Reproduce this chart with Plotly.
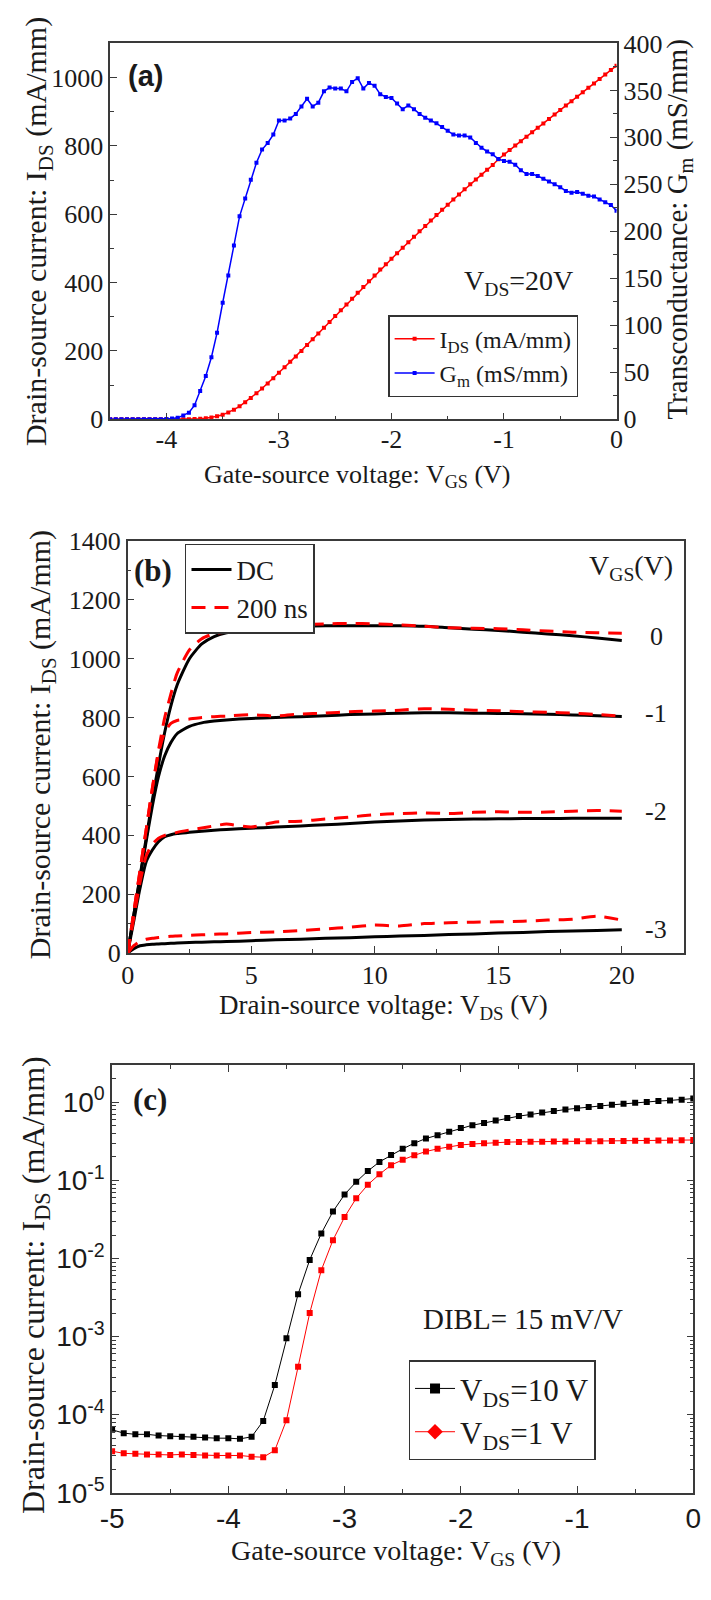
import plotly.graph_objects as go

W, H = 711, 1600

# ---------------- Panel (a): transfer curve at VDS = 20 V ----------------
vgs_a = [-4.5, -4.45, -4.4, -4.35, -4.3, -4.25, -4.2, -4.15, -4.1, -4.05,
         -4.0, -3.95, -3.9, -3.85, -3.8, -3.75, -3.7, -3.65, -3.6, -3.55,
         -3.5, -3.45, -3.4, -3.35, -3.3, -3.25, -3.2, -3.15, -3.1, -3.05,
         -3.0, -2.95, -2.9, -2.85, -2.8, -2.75, -2.7, -2.65, -2.6, -2.55,
         -2.5, -2.45, -2.4, -2.35, -2.3, -2.25, -2.2, -2.15, -2.1, -2.05,
         -2.0, -1.95, -1.9, -1.85, -1.8, -1.75, -1.7, -1.65, -1.6, -1.55,
         -1.5, -1.45, -1.4, -1.35, -1.3, -1.25, -1.2, -1.15, -1.1, -1.05,
         -1.0, -0.95, -0.9, -0.85, -0.8, -0.75, -0.7, -0.65, -0.6, -0.55,
         -0.5, -0.45, -0.4, -0.35, -0.3, -0.25, -0.2, -0.15, -0.1, -0.05, 0.0]

ids_a = [0, 0, 0, 0, 0, 0, 0, 0, 0, 0, 0, 0, 0, 0,
         0.3, 0.7, 1.5, 3, 5, 8.5, 13, 20, 28, 38, 50, 62, 76, 90, 105, 120, 136,
         152, 168, 184, 200, 217, 234, 251, 268, 285, 302,
         319, 336, 353, 370, 387, 404, 421, 438, 454, 470,
         486, 502, 518, 534, 550, 566, 582, 598, 613, 628,
         643, 658, 673, 688, 702, 716, 730, 744, 761, 775,
         788, 801, 814, 827, 840, 853, 866, 879, 892, 905,
         918, 931, 944, 957, 970, 983, 996, 1009, 1022, 1035]

gm_a = [0, 0, 0, 0, 0, 0, 0, 0, 0, 0, 0.3,
        0.8, 1.5, 4, 7, 15, 30, 46, 66, 92, 124,
        153, 185, 216, 235, 255, 273, 287, 294, 303, 318,
        318, 320, 325, 333, 341, 333, 337, 349, 353, 352,
        352, 349, 359, 363, 352, 358, 355, 346, 343, 342,
        336, 330, 334, 330, 325, 321, 318, 315, 311, 307,
        303, 302, 302, 300, 294, 289, 285, 282, 277, 275,
        274, 271, 265, 261, 261, 259, 256, 253, 250, 247,
        243, 241, 242, 240, 238, 237, 234, 231, 228, 222]

xticks_a = [-4, -3, -2, -1, 0]
xticklabels_a = ["-4", "-3", "-2", "-1", "0"]

# ---------------- Panel (b): output curves ----------------
vds_b = [0, 0.25, 0.5, 0.75, 1, 1.25, 1.5, 1.75, 2, 2.5, 3, 3.5, 4, 5, 6, 7,
         8, 9, 10, 11, 12, 13, 14, 15, 16, 17, 18, 19, 20]
dc_0 = [0, 130, 260, 390, 520, 640, 750, 840, 910, 1000, 1050, 1075, 1088, 1100,
        1106, 1110, 1112, 1112, 1112, 1112, 1110, 1105, 1100, 1096, 1090, 1084,
        1078, 1070, 1062]
pl_0 = [0, 140, 280, 420, 560, 690, 800, 880, 950, 1030, 1068, 1085, 1090, 1100,
        1110, 1115, 1118, 1120, 1118, 1115, 1110, 1105, 1103, 1102, 1098, 1094,
        1090, 1088, 1086]
dc_1 = [0, 130, 255, 380, 500, 600, 670, 715, 745, 770, 782, 788, 792, 797, 800,
        803, 806, 810, 812, 815, 816, 816, 815, 814, 813, 811, 809, 806, 804]
pl_1 = [0, 140, 280, 420, 560, 680, 750, 780, 790, 795, 800, 803, 805, 810, 805,
        812, 815, 820, 822, 825, 830, 828, 825, 823, 820, 818, 815, 810, 805]
dc_2 = [0, 110, 220, 310, 350, 378, 395, 402, 406, 410, 414, 417, 420, 424, 428,
        432, 436, 440, 445, 449, 452, 454, 455, 456, 457, 457, 458, 458, 458]
pl_2 = [0, 120, 240, 330, 370, 390, 400, 405, 410, 418, 425, 432, 438, 428, 445,
        448, 455, 462, 470, 474, 476, 474, 478, 480, 478, 479, 482, 484, 482]
dc_3 = [0, 15, 25, 28, 30, 31, 32, 33, 34, 36, 37, 38, 39, 42, 45, 47, 50, 52,
        55, 58, 60, 63, 65, 68, 70, 73, 75, 77, 79]
pl_3 = [0, 25, 40, 47, 50, 53, 55, 57, 58, 60, 62, 64, 65, 70, 72, 76, 82, 88,
        95, 92, 100, 103, 105, 106, 108, 112, 115, 125, 112]
vgs_labels_b = ["0", "-1", "-2", "-3"]
vgs_label_pos_b = [1077, 813, 480, 80]

# ---------------- Panel (c): subthreshold (log) ----------------
vgs_c = [-5.0, -4.9, -4.8, -4.7, -4.6, -4.5, -4.4, -4.3, -4.2, -4.1,
         -4.0, -3.9, -3.8, -3.7, -3.6, -3.5, -3.4, -3.3, -3.2, -3.1,
         -3.0, -2.9, -2.8, -2.7, -2.6, -2.5, -2.4, -2.3, -2.2, -2.1,
         -2.0, -1.9, -1.8, -1.7, -1.6, -1.5, -1.4, -1.3, -1.2, -1.1,
         -1.0, -0.9, -0.8, -0.7, -0.6, -0.5, -0.4, -0.3, -0.2, -0.1, 0.0]
ids_10v = [6.4e-5, 5.8e-5, 5.6e-5, 5.6e-5, 5.4e-5, 5.3e-5, 5.2e-5, 5.2e-5, 5.1e-5, 5.0e-5,
           5.0e-5, 4.9e-5, 5.2e-5, 8.3e-5, 2.4e-4, 9.5e-4, 3.5e-3, 9.6e-3, 2.1e-2, 4.0e-2,
           0.066, 0.096, 0.132, 0.173, 0.212, 0.254, 0.30, 0.345, 0.38, 0.42,
           0.47, 0.51, 0.545, 0.585, 0.63, 0.667, 0.70, 0.74, 0.776, 0.81,
           0.84, 0.876, 0.90, 0.93, 0.96, 0.99, 1.01, 1.04, 1.06, 1.08, 1.12]
ids_1v = [3.4e-5, 3.2e-5, 3.15e-5, 3.1e-5, 3.1e-5, 3.05e-5, 3.1e-5, 3.05e-5, 3.0e-5, 3.0e-5,
          3.0e-5, 3.0e-5, 2.9e-5, 2.85e-5, 3.5e-5, 8.5e-5, 4.1e-4, 2.0e-3, 7.1e-3, 1.72e-2,
          0.034, 0.059, 0.088, 0.12, 0.157, 0.184, 0.21, 0.235, 0.254, 0.27,
          0.285, 0.293, 0.30, 0.305, 0.31, 0.312, 0.313, 0.314, 0.315, 0.316,
          0.317, 0.318, 0.319, 0.32, 0.321, 0.322, 0.323, 0.324, 0.325, 0.327, 0.33]
yticks_c = [1e-5, 1e-4, 1e-3, 1e-2, 1e-1, 1]
yticklabels_c = ["10<sup>-5</sup>", "10<sup>-4</sup>", "10<sup>-3</sup>",
                 "10<sup>-2</sup>", "10<sup>-1</sup>", "10<sup>0</sup>"]
xticks_c = [-5, -4, -3, -2, -1, 0]
xticklabels_c = ["-5", "-4", "-3", "-2", "-1", "0"]

# ---------------- styling ----------------
SERIF = "Liberation Serif"
SANS = "Liberation Sans"
AX = "#3a3a3a"
RED = "#ff0000"
BLUE = "#0000ff"
TXT = "#1a1a1a"


def px_x(p):
    return p / W


def px_y(p):
    return 1 - p / H


fig = go.Figure()

# panel a traces
fig.add_trace(go.Scatter(x=vgs_a, y=ids_a, mode="lines+markers", xaxis="x", yaxis="y",
                         line=dict(color=RED, width=1.5),
                         marker=dict(symbol="square", size=4, color=RED),
                         name="I<sub>DS</sub> (mA/mm)", legend="legend"))
fig.add_trace(go.Scatter(x=vgs_a, y=gm_a, mode="lines+markers", xaxis="x", yaxis="y2",
                         line=dict(color=BLUE, width=1.5),
                         marker=dict(symbol="square", size=4, color=BLUE),
                         name="G<sub>m</sub> (mS/mm)", legend="legend"))

# panel b traces
dc_sets = [dc_0, dc_1, dc_2, dc_3]
pl_sets = [pl_0, pl_1, pl_2, pl_3]
for i, ys in enumerate(dc_sets):
    fig.add_trace(go.Scatter(x=vds_b, y=ys, mode="lines", xaxis="x2", yaxis="y3",
                             line=dict(color="black", width=3, shape="spline", smoothing=0.6),
                             name="DC", showlegend=(i == 0), legend="legend2"))
for i, ys in enumerate(pl_sets):
    fig.add_trace(go.Scatter(x=vds_b, y=ys, mode="lines", xaxis="x2", yaxis="y3",
                             line=dict(color=RED, width=3, dash="14px,9px", shape="spline", smoothing=0.6),
                             name="200 ns", showlegend=(i == 0), legend="legend2"))

# panel c traces
fig.add_trace(go.Scatter(x=vgs_c, y=ids_10v, mode="lines+markers", xaxis="x3", yaxis="y4",
                         line=dict(color="black", width=1),
                         marker=dict(symbol="square", size=6, color="black"),
                         name="V<sub>DS</sub>=10 V", showlegend=False))
fig.add_trace(go.Scatter(x=vgs_c, y=ids_1v, mode="lines+markers", xaxis="x3", yaxis="y4",
                         line=dict(color=RED, width=1),
                         marker=dict(symbol="square", size=6, color=RED),
                         name="V<sub>DS</sub>=1 V", showlegend=False))
# legend entries for panel (c)
fig.add_trace(go.Scatter(x=[None], y=[None], mode="lines+markers", xaxis="x3", yaxis="y4",
                         line=dict(color="black", width=1),
                         marker=dict(symbol="square", size=10, color="black"),
                         name="V<sub>DS</sub>=10 V", legend="legend3"))
fig.add_trace(go.Scatter(x=[None], y=[None], mode="lines+markers", xaxis="x3", yaxis="y4",
                         line=dict(color=RED, width=1),
                         marker=dict(symbol="diamond", size=12, color=RED),
                         name="V<sub>DS</sub>=1 V", legend="legend3"))


def axis_common(**kw):
    d = dict(showline=True, linecolor=AX, linewidth=1.5, showgrid=False, zeroline=False,
             ticks="inside", ticklen=7, tickwidth=1.2, tickcolor=AX,
             tickfont=dict(family=SERIF, size=26, color=TXT))
    d.update(kw)
    return d


layout = dict(
    width=W, height=H, autosize=False,
    margin=dict(l=0, r=0, t=0, b=0),
    paper_bgcolor="white", plot_bgcolor="white",
    # panel a
    xaxis=axis_common(domain=[px_x(101), px_x(622)], anchor="y", range=[-4.5, 0],
                      tickvals=xticks_a, ticktext=xticklabels_a, mirror=True,
                      ticklabelstandoff=-4,
                      minor=dict(dtick=0.5, tick0=0, ticks="inside", ticklen=4, tickcolor=AX)),
    yaxis=axis_common(domain=[px_y(413), px_y(30)], anchor="x", range=[0, 1100], dtick=200,
                      minor=dict(dtick=100, ticks="inside", ticklen=4, tickcolor=AX)),
    yaxis2=axis_common(overlaying="y", side="right", anchor="x", range=[0, 400], dtick=50,
                       minor=dict(dtick=25, ticks="inside", ticklen=4, tickcolor=AX)),
    # panel b
    xaxis2=axis_common(domain=[px_x(119), px_x(691)], anchor="y3", range=[0, 22.5],
                       tickvals=[0, 5, 10, 15, 20], mirror=True, ticklabelstandoff=-2,
                       minor=dict(dtick=2.5, tick0=0, ticks="inside", ticklen=4, tickcolor=AX)),
    yaxis3=axis_common(domain=[px_y(957), px_y(537)], anchor="x2", range=[0, 1400], dtick=200,
                       mirror=True,
                       minor=dict(dtick=100, ticks="inside", ticklen=4, tickcolor=AX)),
    # panel c
    xaxis3=axis_common(domain=[px_x(103), px_x(701)], anchor="y4", range=[-5, 0],
                       tickvals=xticks_c, ticktext=xticklabels_c, mirror="ticks",
                       tickfont=dict(family=SANS, size=28, color=TXT),
                       minor=dict(dtick=0.5, tick0=0, ticks="inside", ticklen=4, tickcolor=AX)),
    yaxis4=axis_common(domain=[px_y(1507), px_y(1071)], anchor="x3", type="log",
                       range=[-5, 0.48], tickvals=yticks_c, ticktext=yticklabels_c,
                       mirror="ticks", tickfont=dict(family=SANS, size=28, color=TXT),
                       minor=dict(dtick="D1", ticks="inside", ticklen=4, tickcolor=AX)),
    legend=dict(x=px_x(387), y=px_y(307), xanchor="left", yanchor="top",
                bordercolor="#333", borderwidth=1.5, bgcolor="white",
                font=dict(family=SERIF, size=24, color=TXT), tracegroupgap=0,
                itemwidth=40),
    legend2=dict(x=px_x(178), y=px_y(540), xanchor="left", yanchor="top",
                 bordercolor="#333", borderwidth=1.5, bgcolor="white",
                 font=dict(family=SERIF, size=27, color=TXT), tracegroupgap=0,
                 itemwidth=40),
    legend3=dict(x=px_x(408), y=px_y(1372), xanchor="left", yanchor="top",
                 bordercolor="#333", borderwidth=1.5, bgcolor="white",
                 font=dict(family=SERIF, size=31, color=TXT), tracegroupgap=0,
                 itemwidth=40),
)
fig.update_layout(**layout)


def ann(text, x, y, size, family=SERIF, angle=0, bold=False, xref="paper", yref="paper"):
    if bold:
        text = "<b>" + text + "</b>"
    fig.add_annotation(text=text, x=x, y=y, xref=xref, yref=yref, showarrow=False,
                       textangle=angle, xanchor="center", yanchor="middle",
                       font=dict(family=family, size=size, color=TXT))


# panel a texts
ann("Drain-source current: I<sub>DS</sub> (mA/mm)", px_x(27), px_y(222), 30, angle=-90)
ann("Transconductance: G<sub>m</sub> (mS/mm)", px_x(686), px_y(220), 29, angle=-90)
ann("Gate-source voltage: V<sub>GS</sub> (V)", px_x(356), px_y(471), 26)
ann("(a)", px_x(137), px_y(63), 29, family=SANS, bold=True)
ann("V<sub>DS</sub>=20V", px_x(521), px_y(274), 28)

# panel b texts
ann("Drain-source current: I<sub>DS</sub> (mA/mm)", px_x(31), px_y(745), 30, angle=-90)
ann("Drain-source voltage: V<sub>DS</sub> (V)", px_x(382), px_y(1012), 27)
ann("(b)", px_x(145), px_y(567), 31, bold=True)
ann("V<sub>GS</sub>(V)", px_x(637), px_y(564), 28)
for lab, yv in zip(vgs_labels_b, vgs_label_pos_b):
    ann(lab, 21.4, yv, 26, xref="x2", yref="y3")

# panel c texts
ann("Drain-source current: I<sub>DS</sub> (mA/mm)", px_x(24), px_y(1295), 32, angle=-90)
ann("Gate-source voltage: V<sub>GS</sub> (V)", px_x(395), px_y(1568), 28)
ann("(c)", px_x(142), px_y(1106), 31, bold=True)
ann("DIBL= 15 mV/V", px_x(526), px_y(1330), 29)

fig.write_html("out.html")
